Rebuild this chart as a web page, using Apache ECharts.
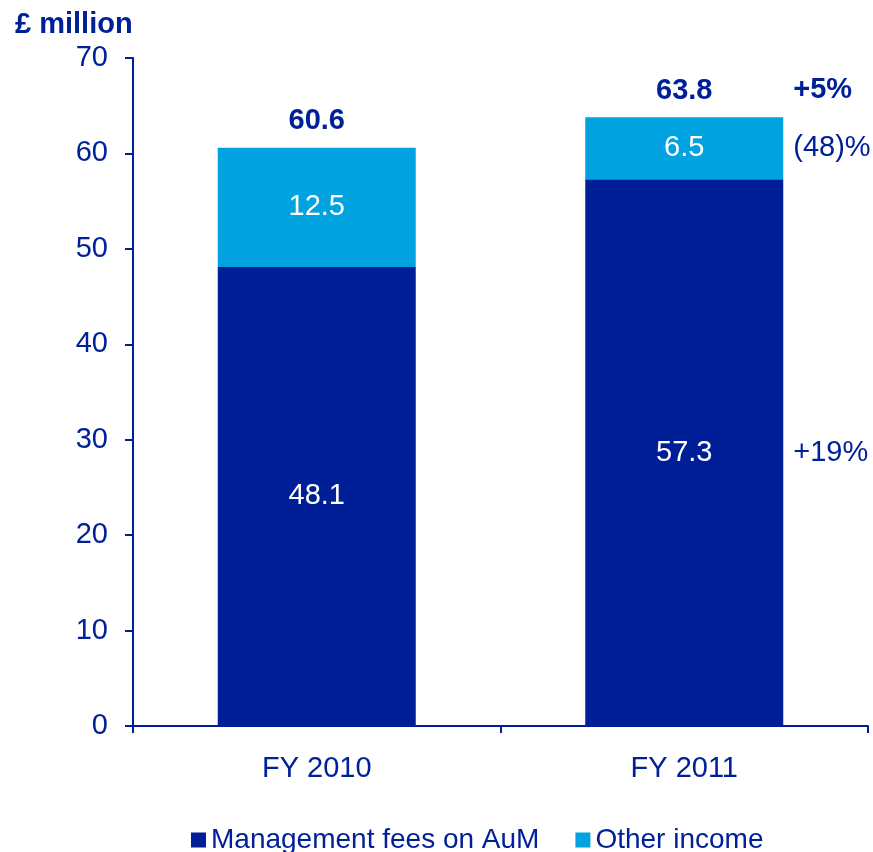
<!DOCTYPE html>
<html>
<head>
<meta charset="utf-8">
<script src="https://cdn.jsdelivr.net/npm/echarts@6/dist/echarts.min.js"></script>
<style>
  html, body { margin: 0; padding: 0; background: #fff; }
  #chart { width: 873px; height: 852px; }
</style>
</head>
<body>
<div id="chart"></div>
<script>
const categories = ['FY 2010', 'FY 2011']
const managementFees = [48.1, 57.3]
const otherIncome = [12.5, 6.5]
const totals = [60.6, 63.8]
// year-on-year changes shown beside FY 2011
const changeLabels = ['+19%', '(48)%', '+5%']

const navy = '#001E96'
const cyan = '#00A3DF'
const textColor = '#00209A'
const font = 'Arial, "Liberation Sans", sans-serif'

const chart = echarts.init(document.getElementById('chart'))

// change annotations placed at the middle of each segment / top of the stack
const last = categories.length - 1
const changePoints = [
  [categories[last], managementFees[last] / 2, changeLabels[0], 0],
  [categories[last], managementFees[last] + otherIncome[last] / 2, changeLabels[1], 0],
  [categories[last], totals[last], changeLabels[2], -27],
]

chart.setOption({
  animation: false,
  textStyle: { fontFamily: font },
  title: {
    text: '£ million',
    left: 10,
    top: 5,
    textStyle: { color: textColor, fontSize: 29, fontWeight: 'bold', fontFamily: font },
  },
  legend: {
    data: ['Management fees on AuM', 'Other income'],
    left: 186,
    top: 821,
    itemWidth: 15,
    itemHeight: 15,
    itemGap: 36,
    icon: 'rect',
    textStyle: { color: textColor, fontSize: 28, fontFamily: font },
  },
  grid: { left: 133, right: 5, top: 58, bottom: 126 },
  xAxis: {
    type: 'category',
    data: categories,
    axisLine: { lineStyle: { color: navy, width: 2 } },
    axisTick: { show: true, length: 7, lineStyle: { color: navy, width: 2 } },
    axisLabel: { color: textColor, fontSize: 29, margin: 28 },
  },
  yAxis: {
    type: 'value',
    min: 0,
    max: 70,
    interval: 10,
    axisLine: { show: true, lineStyle: { color: navy, width: 2 } },
    axisTick: { show: true, length: 8, lineStyle: { color: navy, width: 2 } },
    axisLabel: { color: textColor, fontSize: 29, margin: 25 },
    splitLine: { show: false },
  },
  series: [
    {
      name: 'Management fees on AuM',
      type: 'bar',
      stack: 'income',
      barWidth: 198,
      data: managementFees,
      itemStyle: { color: navy },
      label: { show: true, position: 'inside', color: '#fff', fontSize: 29 },
    },
    {
      name: 'Other income',
      type: 'bar',
      stack: 'income',
      data: otherIncome,
      itemStyle: { color: cyan },
      label: { show: true, position: 'inside', color: '#fff', fontSize: 29 },
    },
    {
      name: 'Total',
      type: 'bar',
      barWidth: 198,
      barGap: '-100%',
      data: totals,
      z: 1,
      itemStyle: { color: 'rgba(0,0,0,0)' },
      label: {
        show: true,
        position: 'top',
        distance: 12,
        color: textColor,
        fontSize: 29,
        fontWeight: 'bold',
      },
      silent: true,
    },
    {
      name: 'Change',
      type: 'scatter',
      symbolSize: 0,
      itemStyle: { opacity: 1 },
      data: changePoints.map((p) => ({
        value: [p[0], p[1]],
        label: {
          formatter: p[2],
          offset: [109, p[3]],
          fontWeight: p[3] ? 'bold' : 'normal',
        },
      })),
      label: { show: true, position: 'inside', align: 'left', color: textColor, fontSize: 29 },
      silent: true,
    },
  ],
})
</script>
</body>
</html>
